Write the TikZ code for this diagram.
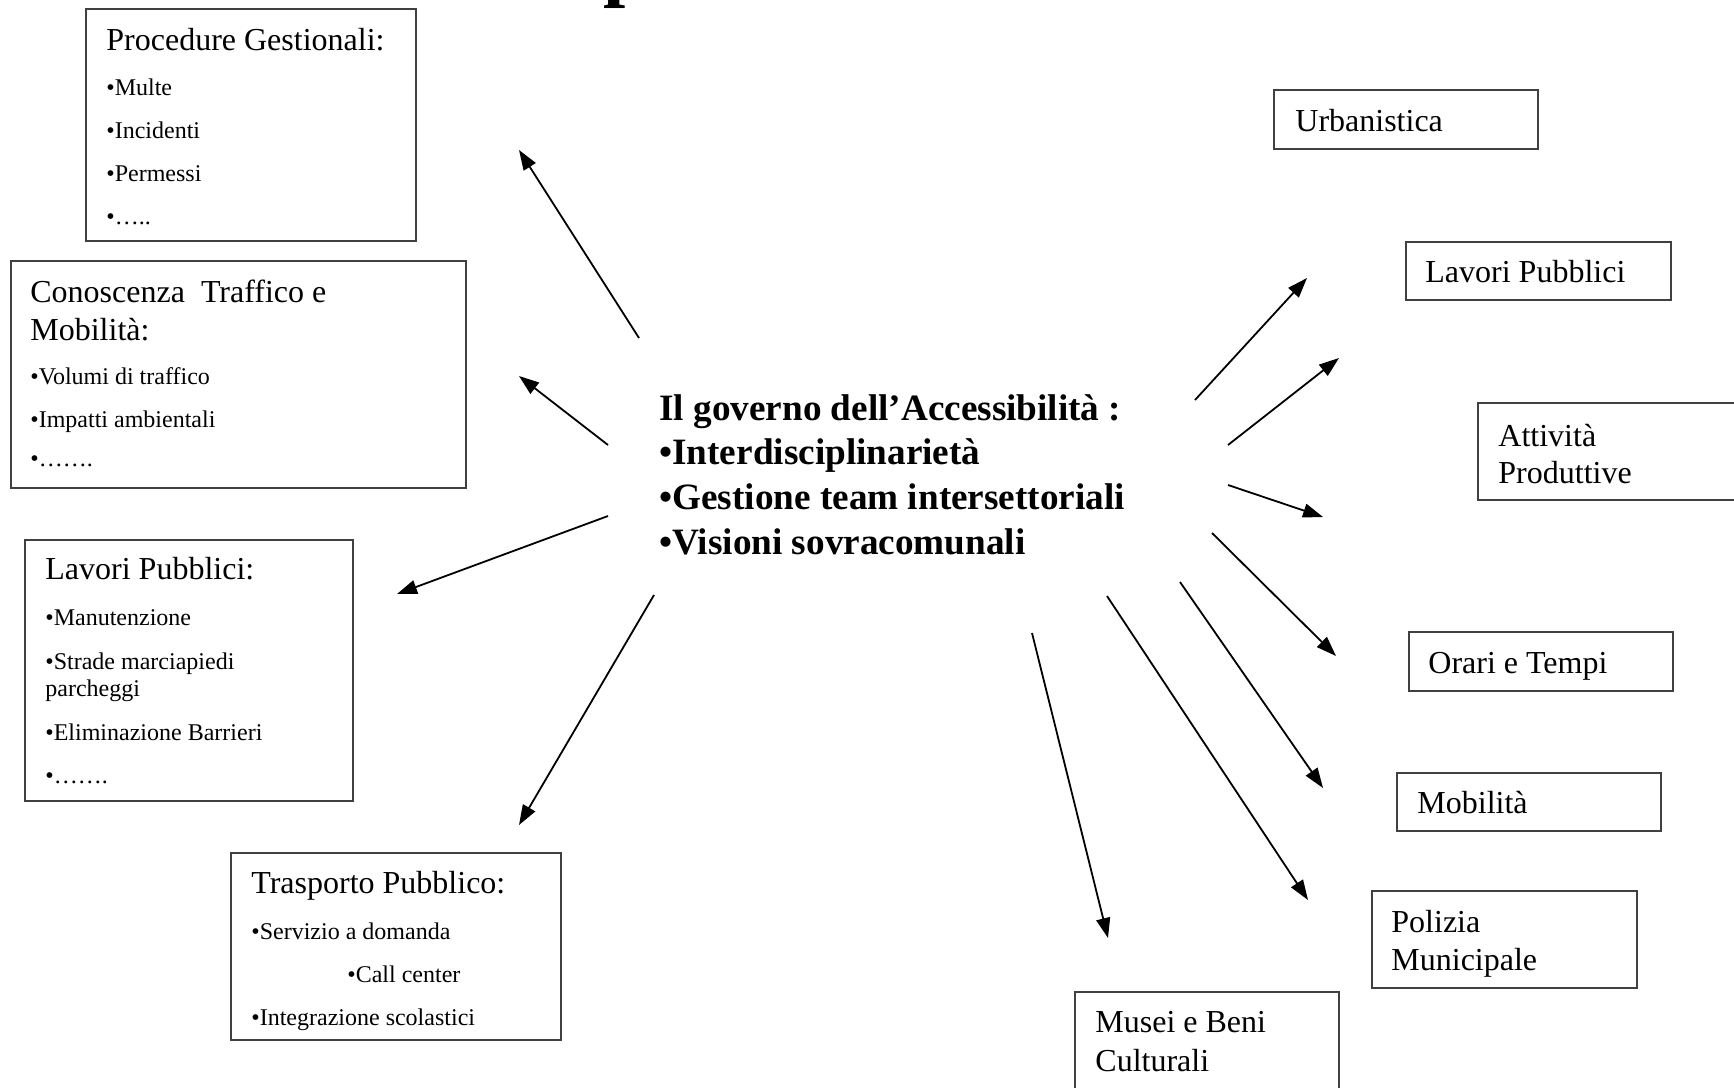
\documentclass[tikz,border=0pt]{standalone}
\usepackage{fontspec}
\setmainfont{Liberation Serif}
\usetikzlibrary{arrows.meta}
\begin{document}
\begin{tikzpicture}[x=0.5pt,y=-0.5pt,
  box/.style 2 args={draw=black!75, line width=0.75pt, inner sep=0pt, outer sep=0pt,
     anchor=north west, minimum width=#1*0.5pt, minimum height=#2*0.5pt},
  ttl/.style={anchor=base west, inner sep=0pt, font=\fontsize{16}{19}\selectfont},
  itm/.style={anchor=base west, inner sep=0pt, font=\fontsize{12}{14}\selectfont},
  hubtxt/.style={anchor=base west, inner sep=0pt, font=\bfseries\fontsize{18.6}{22.35}\selectfont},
  arr/.style={-{Triangle[length=10pt,width=7pt]}, line width=0.9pt}]
\useasboundingbox (0,0) rectangle (1734,1087);
\clip (0,0) rectangle (1734,1087);
\fill[white] (0,0) rectangle (1734,1087);

% fragment of the title, cut by the top edge
\node[anchor=base west, inner sep=0pt, font=\bfseries\fontsize{40}{40}\selectfont] (titlefrag) at (603,-9) {p};

% ---------- left boxes ----------
\node[box={330}{232}] (proc) at (86,9) {};
\node[ttl] (proc0) at (106,50) {Procedure Gestionali:};
\node[itm] (proc1) at (106,95) {•Multe};
\node[itm] (proc2) at (106,138) {•Incidenti};
\node[itm] (proc3) at (106,181) {•Permessi};
\node[itm] (proc4) at (106,224) {•….. };

\node[box={455}{227}] (cono) at (11,261) {};
\node[ttl] (cono0) at (30,302) {Conoscenza~ Traffico e};
\node[ttl] (cono1) at (30,340) {Mobilità:};
\node[itm] (cono2) at (30,384) {•Volumi di traffico};
\node[itm] (cono3) at (30,427) {•Impatti ambientali};
\node[itm] (cono4) at (30,466) {•…….};

\node[box={328}{261}] (lavl) at (25,540) {};
\node[ttl] (lavl0) at (45,579) {Lavori Pubblici:};
\node[itm] (lavl1) at (45,625) {•Manutenzione};
\node[itm] (lavl2) at (45,669) {•Strade marciapiedi};
\node[itm] (lavl3) at (45,696) {parcheggi};
\node[itm] (lavl4) at (45,740) {•Eliminazione Barrieri};
\node[itm] (lavl5) at (45,783) {•…….};

\node[box={330}{187}] (trasp) at (231,853) {};
\node[ttl] (trasp0) at (251,893) {Trasporto Pubblico:};
\node[itm] (trasp1) at (251,939) {•Servizio a domanda};
\node[itm] (trasp2) at (347,982) {•Call center};
\node[itm] (trasp3) at (251,1025) {•Integrazione scolastici};

% ---------- centre ----------
\node[hubtxt] (hub1) at (659,420) {Il governo dell’Accessibilità :};
\node[hubtxt] (hub2) at (659,464) {•Interdisciplinarietà};
\node[hubtxt] (hub3) at (659,509) {•Gestione team intersettoriali};
\node[hubtxt] (hub4) at (659,554) {•Visioni sovracomunali};

% ---------- right boxes ----------
\node[box={264}{59}] (urb) at (1274,90) {};
\node[ttl] (urbt) at (1295,131) {Urbanistica};

\node[box={265}{58}] (lavr) at (1406,242) {};
\node[ttl] (lavrt) at (1425,282) {Lavori Pubblici};

\node[box={300}{97}] (att) at (1478,403) {};
\node[ttl] (att1) at (1498,446) {Attività};
\node[ttl] (att2) at (1498,483) {Produttive};

\node[box={264}{59}] (ora) at (1409,632) {};
\node[ttl] (orat) at (1428,673) {Orari e Tempi};

\node[box={264}{58}] (mob) at (1397,773) {};
\node[ttl] (mobt) at (1417,813) {Mobilità};

\node[box={265}{97}] (pol) at (1372,891) {};
\node[ttl] (pol1) at (1391,932) {Polizia};
\node[ttl] (pol2) at (1391,970) {Municipale};

\node[box={264}{130}] (mus) at (1075,992) {};
\node[ttl] (mus1) at (1095,1032) {Musei e Beni};
\node[ttl] (mus2) at (1095,1071) {Culturali};

% ---------- arrow ends ----------
\coordinate (a1s) at (639,338);  \coordinate (a1e) at (519,150);
\coordinate (a2s) at (608,445);  \coordinate (a2e) at (519,376);
\coordinate (a3s) at (608,516);  \coordinate (a3e) at (397,594);
\coordinate (a4s) at (654,595);  \coordinate (a4e) at (519,825);
\coordinate (a5s) at (1195,400); \coordinate (a5e) at (1307,278);
\coordinate (a6s) at (1228,445); \coordinate (a6e) at (1339,358);
\coordinate (a7s) at (1228,485); \coordinate (a7e) at (1323,517);
\coordinate (a8s) at (1212,533); \coordinate (a8e) at (1336,656);
\coordinate (a9s) at (1180,582); \coordinate (a9e) at (1323,788);
\coordinate (a10s) at (1107,596); \coordinate (a10e) at (1308,900);
\coordinate (a11s) at (1032,633); \coordinate (a11e) at (1108,938);

\foreach \i in {1,...,11} \draw[arr] (a\i s) -- (a\i e);
\end{tikzpicture}
\end{document}
